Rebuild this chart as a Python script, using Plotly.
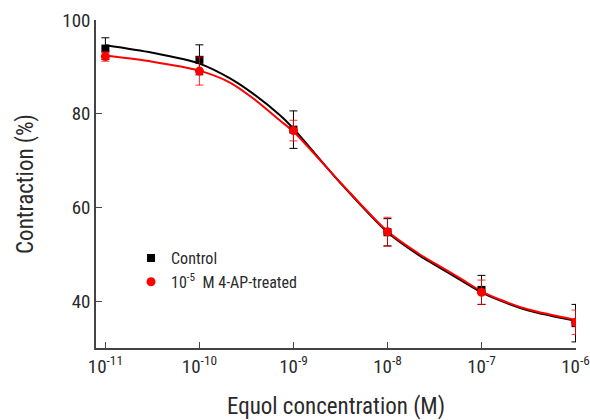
import plotly.graph_objects as go

# Measured data points (log10 of molar concentration)
conc_log = [-11, -10, -9, -8, -7, -6]
control_vals = [93.9, 91.5, 76.6, 54.7, 42.4, 35.3]
control_err = [2.3, 3.2, 4.0, 2.9, 3.1, 4.0]
treated_vals = [92.2, 89.1, 76.4, 54.8, 41.9, 35.5]
treated_err = [1.0, 3.0, 2.2, 3.1, 2.6, 2.6]

# Fitted curves
curve_log = [-11, -10.5, -10, -9.67, -9.43, -9.14, -9, -8.5, -8, -7.65, -7.5, -7.23, -7, -6.8, -6.5, -6]
control_curve = [94.6, 93.0, 90.7, 87.5, 84.3, 79.6, 76.8, 65.2, 54.7, 49.6, 47.8, 44.6, 41.9, 40.1, 38.0, 35.8]
treated_curve = [92.4, 91.1, 89.2, 86.6, 83.3, 78.5, 76.2, 65.3, 54.9, 49.9, 48.1, 44.9, 42.1, 40.3, 38.2, 36.0]

tick_vals_log = [-11, -10, -9, -8, -7, -6]
tick_text = ["10<sup>-11</sup>", "10<sup>-10</sup>", "10<sup>-9</sup>", "10<sup>-8</sup>", "10<sup>-7</sup>", "10<sup>-6</sup>"]
y_ticks = [40, 60, 80, 100]

FONT = "Liberation Sans Narrow, Roboto Condensed, Arial Narrow, Liberation Sans, sans-serif"

def p10(v):
    return [10 ** a for a in v]

fig = go.Figure()
fig.add_trace(go.Scatter(x=p10(curve_log), y=control_curve, mode="lines", line=dict(color="black", width=2, shape="spline", smoothing=0.8), showlegend=False, hoverinfo="skip"))
fig.add_trace(go.Scatter(x=p10(curve_log), y=treated_curve, mode="lines", line=dict(color="#ff0000", width=2, shape="spline", smoothing=0.8), showlegend=False, hoverinfo="skip"))
fig.add_trace(go.Scatter(x=p10(conc_log), y=control_vals, mode="markers", name="Control",
                         marker=dict(symbol="square", size=8, color="black"),
                         error_y=dict(type="data", array=control_err, color="black", thickness=1, width=4)))
fig.add_trace(go.Scatter(x=p10(conc_log), y=treated_vals, mode="markers", name="10<sup>-5</sup>  M 4-AP-treated",
                         marker=dict(symbol="circle", size=9, color="#ff0000"),
                         error_y=dict(type="data", array=treated_err, color="rgba(255,0,0,0.8)", thickness=1, width=4)))

fig.update_layout(
    width=590, height=420,
    margin=dict(l=96, r=14, t=20, b=72, autoexpand=False),
    paper_bgcolor="white", plot_bgcolor="white",
    font=dict(family=FONT, size=19, color="#2a2a2a"),
    legend=dict(x=0.073, y=0.326, xanchor="left", yanchor="top", bgcolor="rgba(0,0,0,0)",
                font=dict(size=16, color="#2a2a2a"), itemsizing="trace", tracegroupgap=0),
    showlegend=True,
)
fig.update_xaxes(type="log", range=[-11.1, -5.995], tickvals=p10(tick_vals_log), ticktext=tick_text,
                 ticks="inside", ticklen=6, tickcolor="#444", showline=True, linecolor="#444", linewidth=1.5,
                 showgrid=False, zeroline=False, tickfont=dict(size=19), automargin=False,
                 title=dict(text="Equol concentration (M)", font=dict(size=23), standoff=22))
fig.update_yaxes(range=[30, 100], tickvals=y_ticks, ticks="inside", ticklen=6, tickcolor="#444",
                 showline=True, linecolor="#444", linewidth=1.5, showgrid=False, zeroline=False,
                 tickfont=dict(size=19), automargin=False,
                 title=dict(text="Contraction (%)", font=dict(size=23), standoff=22))

fig.write_html("out.html", config={"displayModeBar": False},
               post_script="document.body.style.margin='0';document.body.style.overflow='hidden';")
